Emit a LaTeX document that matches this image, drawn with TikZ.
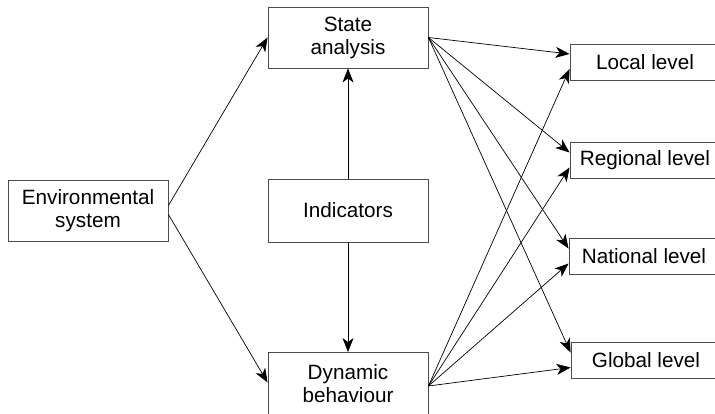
\documentclass[tikz,border=0pt]{standalone}
\usepackage{fontspec}
\setmainfont{Liberation Sans}
\usetikzlibrary{arrows.meta}

\begin{document}
\begin{tikzpicture}[x=1pt,y=-1pt,
  box/.style={draw=black!70,line width=0.9pt,align=center,inner sep=0pt,
    minimum width=160pt,minimum height=61pt,font=\fontsize{20.7}{23}\selectfont},
  lvlbox/.style={box,minimum width=150pt,minimum height=36pt},
  arr/.style={draw=black,line width=0.7pt,-{Stealth[length=14pt,width=11pt,inset=4pt]}}]
\clip (0,0) rectangle (715,413);
\node [box] (env) at (88,210.5) {Environmental\\system};
\node [box] (state) at (348,37.5) {State\\analysis};
\node [box,minimum height=63pt] (ind) at (348,210.5) {Indicators};
\node [box,minimum height=63pt] (dyn) at (348,384) {Dynamic\\behaviour};
\node [lvlbox] (local) at (645,62) {Local level};
\node [lvlbox] (regional) at (645,160.5) {Regional level};
\node [lvlbox] (national) at (644,256.5) {National level};
\node [lvlbox] (global) at (646,360.5) {Global level};
\draw [arr] ([yshift=5pt]env.east) -- (state.west);
\draw [arr] ([yshift=-4pt]env.east) -- ([yshift=1.5pt]dyn.west);
\draw [arr] (ind.north) -- (state.south);
\draw [arr] (ind.south) -- (dyn.north);
\foreach \lv in {local,regional,national,global} {
  \draw [arr] (state.east) -- ([yshift=8pt]\lv.west);
  \draw [arr] ([yshift=-2pt]dyn.east) -- ([yshift=-7pt]\lv.west);
}
\end{tikzpicture}
\end{document}
